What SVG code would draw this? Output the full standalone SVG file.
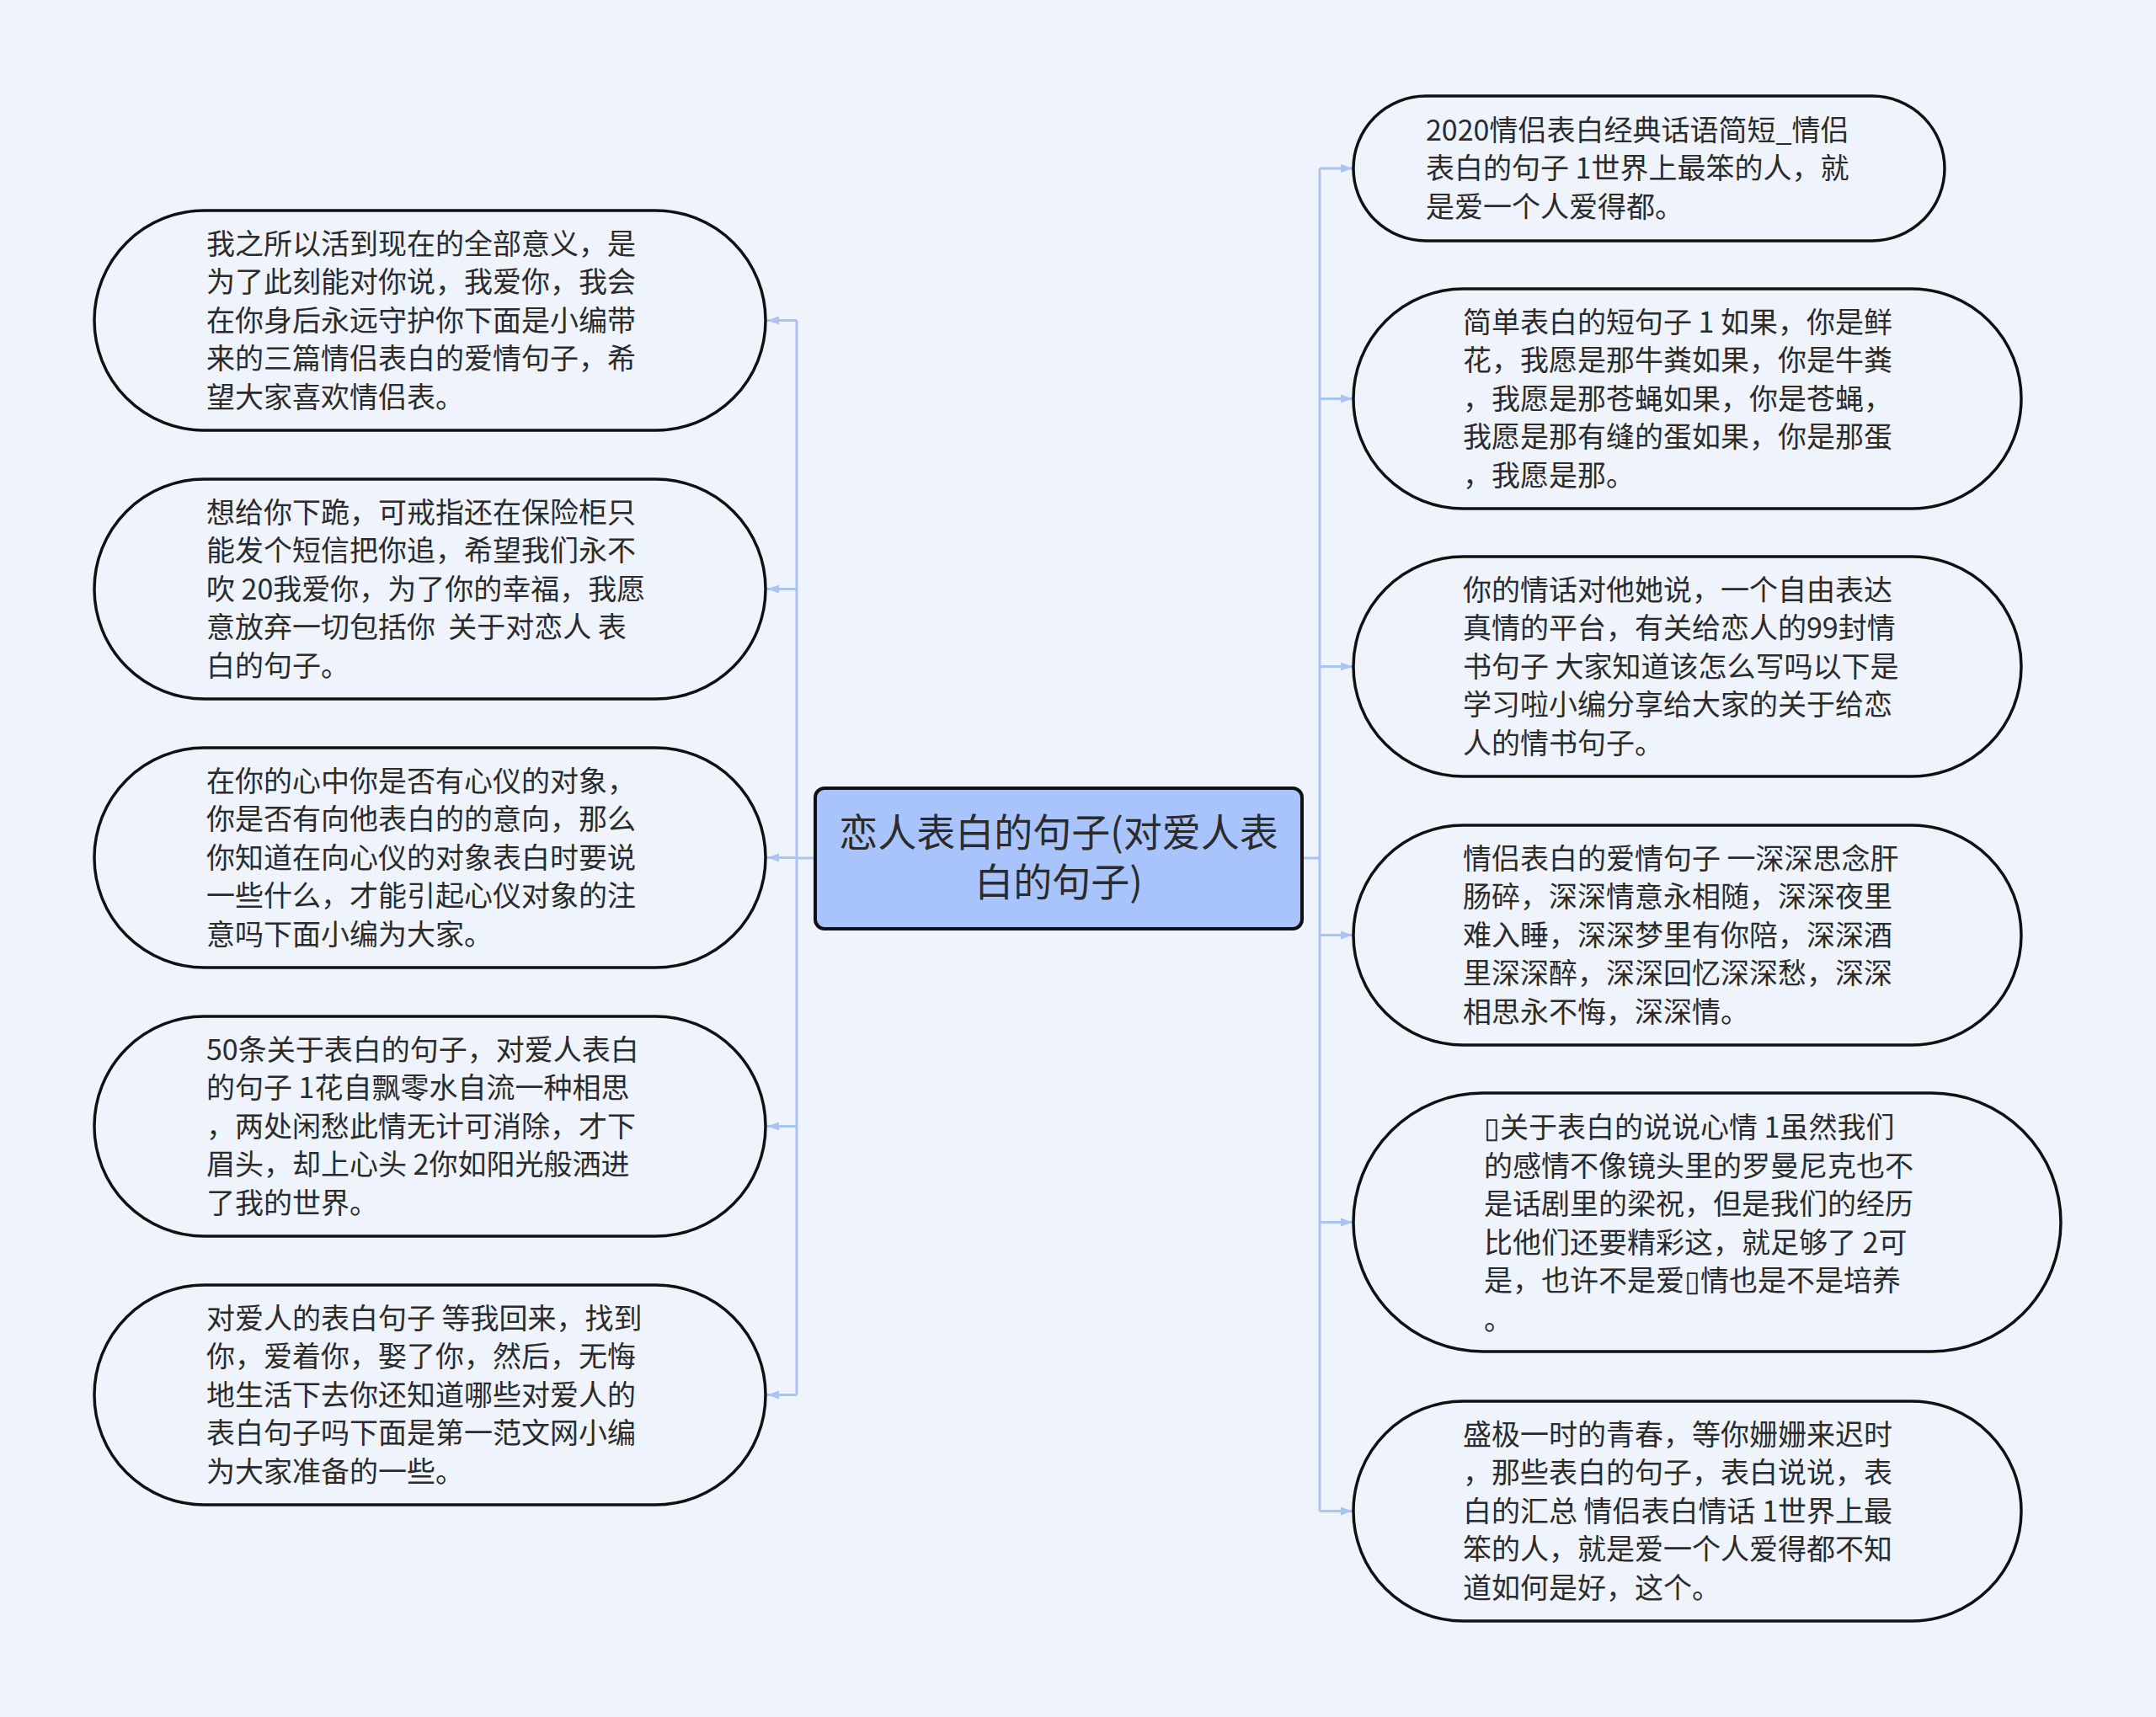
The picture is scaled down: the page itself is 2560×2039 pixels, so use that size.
<svg xmlns="http://www.w3.org/2000/svg" width="2560" height="2039" viewBox="0 0 2560 2039">
<style>
.bg{fill:#eef3fc}
.node{fill:#eef3fc;stroke:#111;stroke-width:3.5}
.root{fill:#a9c4fc;stroke:#111;stroke-width:4}
.t{font-family:"Noto Sans CJK SC","Noto Sans",sans-serif;font-size:34px;fill:#2b2b2b;white-space:pre}
.rt{font-family:"Noto Sans CJK SC","Noto Sans",sans-serif;font-size:46px;fill:#2b2b2b;text-anchor:middle}
.ln{fill:none;stroke:#a9c3f2;stroke-width:3}
</style>
<defs>
<marker id="arr" markerUnits="userSpaceOnUse" markerWidth="15" markerHeight="12" refX="14" refY="6" orient="auto">
<path d="M0,1 L14,6 L0,11 Z" fill="#a9c3f2"/>
</marker>
</defs>
<rect class="bg" x="0" y="0" width="2560" height="2039"/>
<g id="connectors">
<path class="ln" d="M968,1019 H946"/>
<path class="ln" d="M946,380.5 V1656.5"/>
<path class="ln" d="M946,380.5 H911" marker-end="url(#arr)"/>
<path class="ln" d="M946,699.5 H911" marker-end="url(#arr)"/>
<path class="ln" d="M946,1018.5 H911" marker-end="url(#arr)"/>
<path class="ln" d="M946,1337.5 H911" marker-end="url(#arr)"/>
<path class="ln" d="M946,1656.5 H911" marker-end="url(#arr)"/>
<path class="ln" d="M1546,1019 H1567"/>
<path class="ln" d="M1567,200 V1794.5"/>
<path class="ln" d="M1567,200 H1606" marker-end="url(#arr)"/>
<path class="ln" d="M1567,473.5 H1606" marker-end="url(#arr)"/>
<path class="ln" d="M1567,791.5 H1606" marker-end="url(#arr)"/>
<path class="ln" d="M1567,1110.5 H1606" marker-end="url(#arr)"/>
<path class="ln" d="M1567,1451.5 H1606" marker-end="url(#arr)"/>
<path class="ln" d="M1567,1794.5 H1606" marker-end="url(#arr)"/>
</g>
<g id="root">
<rect class="root" x="968" y="936" width="578" height="167" rx="11"/>
<text class="rt"><tspan x="1257" y="1005">恋人表白的句子(对爱人表</tspan><tspan x="1257" y="1064">白的句子)</tspan></text>
</g>
<g id="L1">
<rect class="node" x="112" y="250" width="797" height="261" rx="130.5"/>
<text class="t" x="245" y="301.5">我之所以活到现在的全部意义，是</text>
<text class="t" x="245" y="347">为了此刻能对你说，我爱你，我会</text>
<text class="t" x="245" y="392.5">在你身后永远守护你下面是小编带</text>
<text class="t" x="245" y="438">来的三篇情侣表白的爱情句子，希</text>
<text class="t" x="245" y="483.5">望大家喜欢情侣表。</text>
</g>
<g id="L2">
<rect class="node" x="112" y="569" width="797" height="261" rx="130.5"/>
<text class="t" x="245" y="620.5">想给你下跪，可戒指还在保险柜只</text>
<text class="t" x="245" y="666">能发个短信把你追，希望我们永不</text>
<text class="t" x="245" y="711.5">吹 20我爱你，为了你的幸福，我愿</text>
<text class="t" x="245" y="757">意放弃一切包括你  关于对恋人 表</text>
<text class="t" x="245" y="802.5">白的句子。</text>
</g>
<g id="L3">
<rect class="node" x="112" y="888" width="797" height="261" rx="130.5"/>
<text class="t" x="245" y="939.5">在你的心中你是否有心仪的对象，</text>
<text class="t" x="245" y="985">你是否有向他表白的的意向，那么</text>
<text class="t" x="245" y="1030.5">你知道在向心仪的对象表白时要说</text>
<text class="t" x="245" y="1076">一些什么，才能引起心仪对象的注</text>
<text class="t" x="245" y="1121.5">意吗下面小编为大家。</text>
</g>
<g id="L4">
<rect class="node" x="112" y="1207" width="797" height="261" rx="130.5"/>
<text class="t" x="245" y="1258.5">50条关于表白的句子，对爱人表白</text>
<text class="t" x="245" y="1304">的句子 1花自飘零水自流一种相思</text>
<text class="t" x="245" y="1349.5">，两处闲愁此情无计可消除，才下</text>
<text class="t" x="245" y="1395">眉头，却上心头 2你如阳光般洒进</text>
<text class="t" x="245" y="1440.5">了我的世界。</text>
</g>
<g id="L5">
<rect class="node" x="112" y="1526" width="797" height="261" rx="130.5"/>
<text class="t" x="245" y="1577.5">对爱人的表白句子 等我回来，找到</text>
<text class="t" x="245" y="1623">你，爱着你，娶了你，然后，无悔</text>
<text class="t" x="245" y="1668.5">地生活下去你还知道哪些对爱人的</text>
<text class="t" x="245" y="1714">表白句子吗下面是第一范文网小编</text>
<text class="t" x="245" y="1759.5">为大家准备的一些。</text>
</g>
<g id="R1">
<rect class="node" x="1607" y="114" width="702" height="172" rx="86"/>
<text class="t" x="1693" y="166.5">2020情侣表白经典话语简短_情侣</text>
<text class="t" x="1693" y="212">表白的句子 1世界上最笨的人，就</text>
<text class="t" x="1693" y="257.5">是爱一个人爱得都。</text>
</g>
<g id="R2">
<rect class="node" x="1607" y="343" width="793" height="261" rx="130.5"/>
<text class="t" x="1737" y="394.5">简单表白的短句子 1 如果，你是鲜</text>
<text class="t" x="1737" y="440">花，我愿是那牛粪如果，你是牛粪</text>
<text class="t" x="1737" y="485.5">，我愿是那苍蝇如果，你是苍蝇，</text>
<text class="t" x="1737" y="531">我愿是那有缝的蛋如果，你是那蛋</text>
<text class="t" x="1737" y="576.5">，我愿是那。</text>
</g>
<g id="R3">
<rect class="node" x="1607" y="661" width="793" height="261" rx="130.5"/>
<text class="t" x="1737" y="712.5">你的情话对他她说，一个自由表达</text>
<text class="t" x="1737" y="758">真情的平台，有关给恋人的99封情</text>
<text class="t" x="1737" y="803.5">书句子 大家知道该怎么写吗以下是</text>
<text class="t" x="1737" y="849">学习啦小编分享给大家的关于给恋</text>
<text class="t" x="1737" y="894.5">人的情书句子。</text>
</g>
<g id="R4">
<rect class="node" x="1607" y="980" width="793" height="261" rx="130.5"/>
<text class="t" x="1737" y="1031.5">情侣表白的爱情句子 一深深思念肝</text>
<text class="t" x="1737" y="1077">肠碎，深深情意永相随，深深夜里</text>
<text class="t" x="1737" y="1122.5">难入睡，深深梦里有你陪，深深酒</text>
<text class="t" x="1737" y="1168">里深深醉，深深回忆深深愁，深深</text>
<text class="t" x="1737" y="1213.5">相思永不悔，深深情。</text>
</g>
<g id="R5">
<rect class="node" x="1607" y="1298" width="840" height="307" rx="153.5"/>
<text class="t" x="1762" y="1351">▯关于表白的说说心情 1虽然我们</text>
<text class="t" x="1762" y="1396.5">的感情不像镜头里的罗曼尼克也不</text>
<text class="t" x="1762" y="1442">是话剧里的梁祝，但是我们的经历</text>
<text class="t" x="1762" y="1487.5">比他们还要精彩这，就足够了 2可</text>
<text class="t" x="1762" y="1533">是，也许不是爱▯情也是不是培养</text>
<text class="t" x="1762" y="1578.5">。</text>
</g>
<g id="R6">
<rect class="node" x="1607" y="1664" width="793" height="261" rx="130.5"/>
<text class="t" x="1737" y="1715.5">盛极一时的青春，等你姗姗来迟时</text>
<text class="t" x="1737" y="1761">，那些表白的句子，表白说说，表</text>
<text class="t" x="1737" y="1806.5">白的汇总 情侣表白情话 1世界上最</text>
<text class="t" x="1737" y="1852">笨的人，就是爱一个人爱得都不知</text>
<text class="t" x="1737" y="1897.5">道如何是好，这个。</text>
</g>
</svg>
